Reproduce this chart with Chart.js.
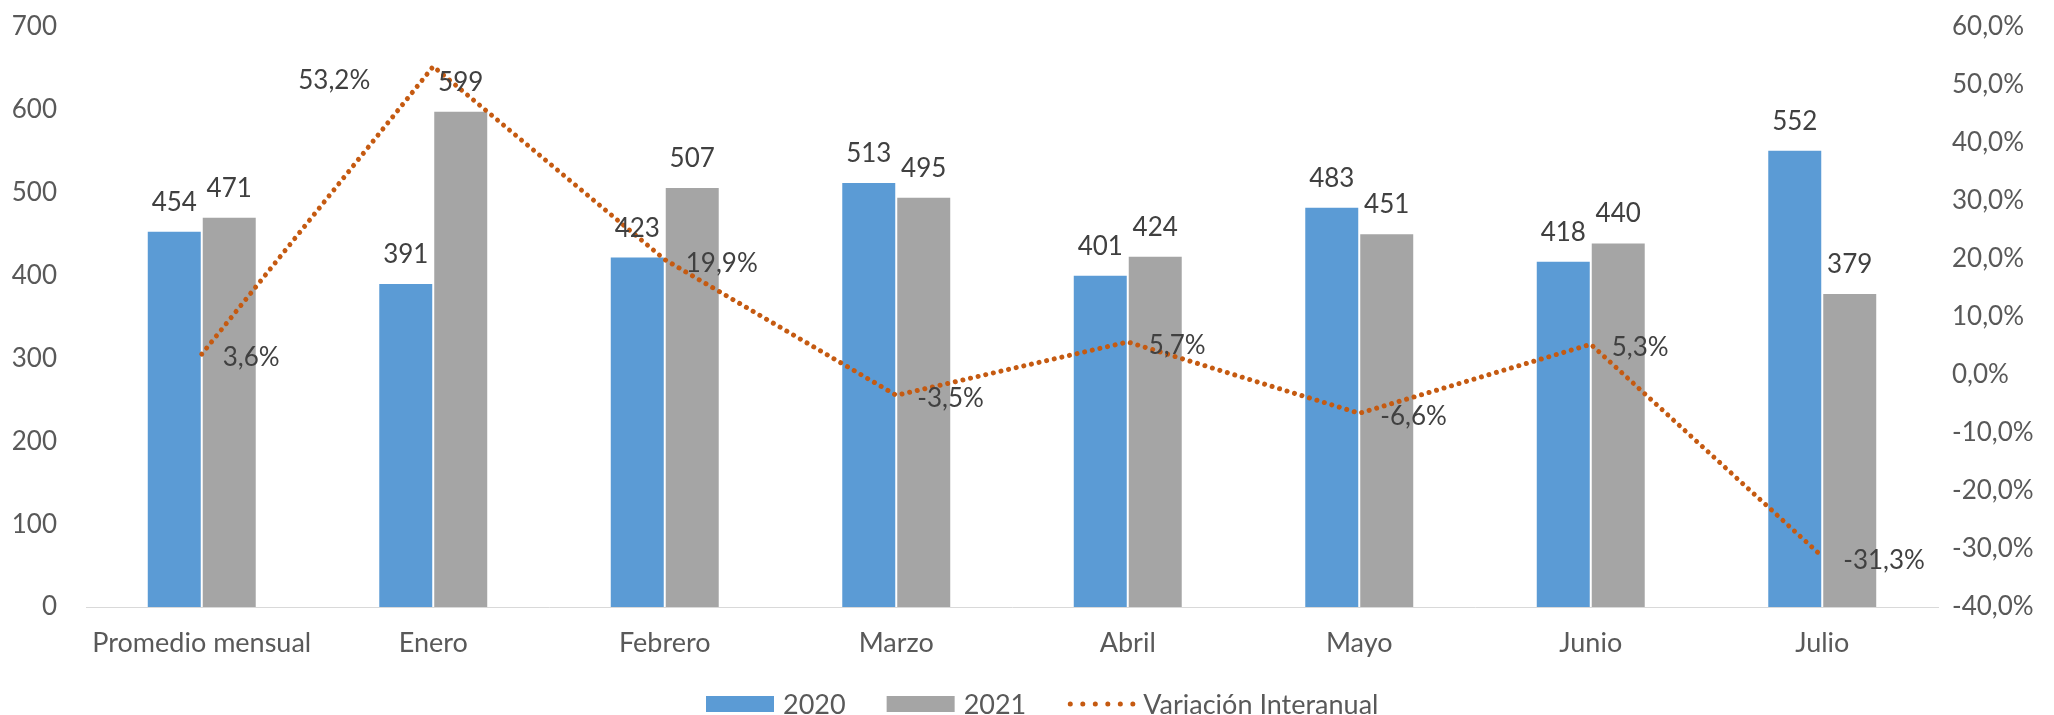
<!DOCTYPE html>
<html>
<head>
<meta charset="utf-8">
<script src="https://cdn.jsdelivr.net/npm/chart.js@4.4.1/dist/chart.umd.min.js"></script>
<style>
  html, body { margin: 0; padding: 0; background: #fff; }
</style>
</head>
<body>
<canvas id="chart" width="2054" height="715"></canvas>
<script>
const categories = ["Promedio mensual", "Enero", "Febrero", "Marzo", "Abril", "Mayo", "Junio", "Julio"];
const values2020 = [454, 391, 423, 513, 401, 483, 418, 552];
const values2021 = [471, 599, 507, 495, 424, 451, 440, 379];
const variation = [3.6, 53.2, 19.9, -3.5, 5.7, -6.6, 5.3, -31.3];
const seriesNames = ["2020", "2021", "Variación Interanual"];
const leftTicks = [0, 700, 100];
const rightTicks = [-40, 60, 10];

const BLUE = "#5B9BD5";
const GRAY = "#A5A5A5";
const ORANGE = "#C55A11";
const FONT = "Lato";

const fmtPct = v => v.toFixed(1).replace(".", ",");

// which side of the point each variation label sits on
const pctSide = ["right", "left", "right", "right", "right", "right", "right", "right"];

const valueLabels = {
  id: "valueLabels",
  afterDatasetsDraw(chart) {
    const ctx = chart.ctx;
    ctx.save();
    ctx.font = `26px ${FONT}`;
    ctx.fillStyle = "#404040";
    ctx.textBaseline = "alphabetic";
    chart.data.datasets.forEach((ds, i) => {
      const meta = chart.getDatasetMeta(i);
      meta.data.forEach((el, j) => {
        if (meta.type === "bar") {
          ctx.textAlign = "center";
          ctx.fillText(String(ds.data[j]), el.x, el.y - 20);
        } else {
          const txt = fmtPct(ds.data[j]) + "%";
          if (pctSide[j] === "left") {
            ctx.textAlign = "right";
            ctx.fillText(txt, el.x - 63, el.y + 23);
          } else {
            ctx.textAlign = "left";
            ctx.fillText(txt, el.x + 21, el.y + 12);
          }
        }
      });
    });
    ctx.restore();
  }
};

const legendBox = {
  id: "legendBox",
  afterDraw(chart) {
    const ctx = chart.ctx;
    ctx.save();
    ctx.font = `27px ${FONT}`;
    ctx.textBaseline = "alphabetic";
    ctx.textAlign = "left";
    let x = 706;
    const yMid = 704;
    [BLUE, GRAY].forEach((c, i) => {
      ctx.fillStyle = c;
      ctx.fillRect(x, yMid - 8, 68, 16);
      x += 68 + 9;
      ctx.fillStyle = "#595959";
      ctx.fillText(seriesNames[i], x, yMid + 10);
      x += ctx.measureText(seriesNames[i]).width + 41;
    });
    ctx.strokeStyle = ORANGE;
    ctx.lineWidth = 5;
    ctx.lineCap = "round";
    ctx.setLineDash([0.01, 12.5]);
    ctx.beginPath();
    ctx.moveTo(x + 3, yMid);
    ctx.lineTo(x + 66, yMid);
    ctx.stroke();
    ctx.setLineDash([]);
    x += 76;
    ctx.fillStyle = "#595959";
    ctx.fillText(seriesNames[2], x, yMid + 10);
    ctx.restore();
  }
};

function fixWidth(w) {
  return scale => {
    scale.width = w;
    scale.paddingTop = 0;
    scale.paddingBottom = 0;
  };
}

new Chart(document.getElementById("chart"), {
  type: "bar",
  data: {
    labels: categories,
    datasets: [
      {
        type: "line",
        label: seriesNames[2],
        data: variation,
        yAxisID: "y1",
        borderColor: ORANGE,
        borderWidth: 5,
        borderDash: [0.01, 7.8],
        borderCapStyle: "round",
        pointRadius: 0,
        tension: 0,
        order: 0
      },
      {
        label: seriesNames[0],
        data: values2020,
        backgroundColor: BLUE,
        borderColor: "rgba(255,255,255,0.5)",
        borderWidth: 1,
        yAxisID: "y",
        order: 1
      },
      {
        label: seriesNames[1],
        data: values2021,
        backgroundColor: GRAY,
        borderColor: "rgba(255,255,255,0.5)",
        borderWidth: 1,
        yAxisID: "y",
        order: 1
      }
    ]
  },
  options: {
    responsive: false,
    animation: false,
    devicePixelRatio: 1,
    categoryPercentage: 0.475,
    barPercentage: 1.0,
    layout: { padding: { top: 27, bottom: 48, left: 0, right: 0 } },
    plugins: {
      legend: { display: false },
      tooltip: { enabled: false }
    },
    scales: {
      x: {
        grid: { display: false, drawTicks: false },
        border: { display: true, color: "#D9D9D9", width: 1 },
        ticks: {
          font: { family: FONT, size: 27 },
          color: "#595959",
          padding: 20,
          maxRotation: 0
        },
        afterFit(scale) { scale.height = 60; }
      },
      y: {
        position: "left",
        min: leftTicks[0],
        max: leftTicks[1],
        grid: { display: false, drawTicks: false },
        border: { display: false },
        ticks: {
          stepSize: leftTicks[2],
          font: { family: FONT, size: 26 },
          color: "#595959",
          padding: 29
        },
        afterFit: fixWidth(86)
      },
      y1: {
        position: "right",
        min: rightTicks[0],
        max: rightTicks[1],
        grid: { display: false, drawTicks: false },
        border: { display: false },
        ticks: {
          stepSize: rightTicks[2],
          font: { family: FONT, size: 26 },
          color: "#595959",
          padding: 14,
          callback: v => fmtPct(v) + "%"
        },
        afterFit: fixWidth(116)
      }
    }
  },
  plugins: [valueLabels, legendBox]
});
</script>
</body>
</html>
